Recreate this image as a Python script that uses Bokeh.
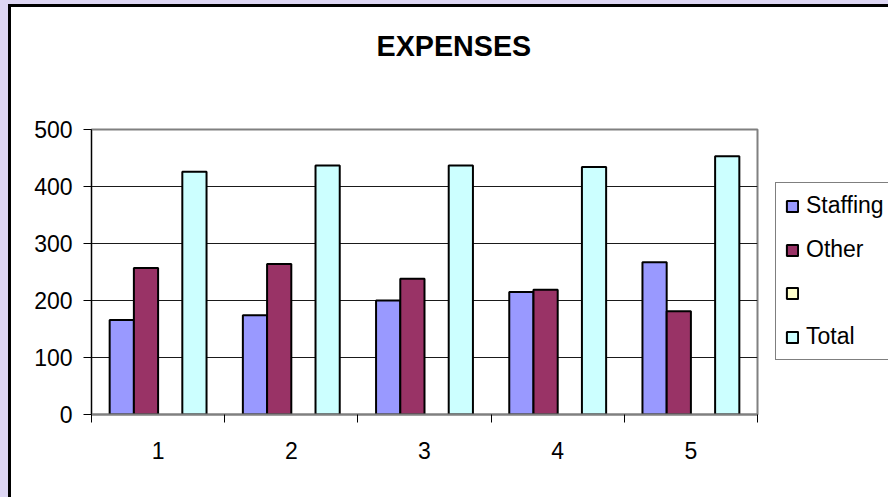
from bokeh.plotting import figure
from bokeh.models import (ColumnDataSource, Range1d, FixedTicker, Legend, LegendItem, Title)
from bokeh.layouts import row
from bokeh.transform import dodge
from bokeh.embed import file_html
from bokeh.resources import INLINE

categories = ["1", "2", "3", "4", "5"]
staffing = [166, 174, 200, 215, 267]
other = [257, 264, 238, 219, 181]
blank = [float("nan")] * 5
total = [426, 437, 437, 434, 453]
series_names = ["Staffing", "Other", " ", "Total"]
series_colors = ["#9999FF", "#993366", "#FFFFCC", "#CCFFFF"]
y_ticks = [0, 100, 200, 300, 400, 500]
title_text = "EXPENSES"

FONT = "Liberation Sans"

xs = [i + 0.5 for i in range(len(categories))]
src = ColumnDataSource(dict(x=xs, s0=staffing, s1=other, s2=blank, s3=total))

p = figure(width=750, height=490, output_backend="svg", toolbar_location=None, title=None,
           x_range=Range1d(0, len(categories)), y_range=Range1d(0, 500),
           min_border_left=80, min_border_right=4, min_border_top=122, min_border_bottom=83)
p.background_fill_color = "white"
p.border_fill_color = "white"
p.outline_line_color = "#808080"
p.outline_line_width = 2

w = 1 / 5.5
offsets = [-1.5 * w, -0.5 * w, 0.5 * w, 1.5 * w]
for k in range(4):
    p.vbar(x=dodge("x", offsets[k], range=p.x_range), top="s%d" % k, bottom=0, width=w,
           source=src, fill_color=series_colors[k], line_color="black", line_width=2)

# grid
p.xgrid.visible = False
p.ygrid.ticker = FixedTicker(ticks=y_ticks[1:-1])
p.ygrid.grid_line_color = "#1a1a1a"
p.ygrid.grid_line_width = 1

# y axis
p.yaxis.ticker = FixedTicker(ticks=y_ticks)
p.yaxis.axis_line_color = "black"
p.yaxis.axis_line_width = 1
p.yaxis.major_tick_line_color = "black"
p.yaxis.major_tick_out = 8
p.yaxis.major_tick_in = 0
p.yaxis.minor_tick_line_color = None
p.yaxis.major_label_text_font = FONT
p.yaxis.major_label_text_font_size = "23px"
p.yaxis.major_label_text_color = "black"
p.yaxis.major_label_standoff = 11

# x axis
p.xaxis.ticker = FixedTicker(ticks=xs, minor_ticks=list(range(len(categories) + 1)))
p.xaxis.major_label_overrides = {x: c for x, c in zip(xs, categories)}
p.xaxis.axis_line_color = "#808080"
p.xaxis.axis_line_width = 2
p.xaxis.major_tick_line_color = None
p.xaxis.major_tick_out = 0
p.xaxis.major_tick_in = 0
p.xaxis.minor_tick_line_color = "black"
p.xaxis.minor_tick_out = 8
p.xaxis.minor_tick_in = 0
p.xaxis.major_label_text_font = FONT
p.xaxis.major_label_text_font_size = "23px"
p.xaxis.major_label_text_color = "black"
p.xaxis.major_label_standoff = 19

# title: a blank spacer title next to the frame, then the real title above it
p.add_layout(Title(text=" ", text_font_size="10px", standoff=55), "above")
p.add_layout(Title(text=title_text, align="left", offset=285, standoff=0,
                   text_font=FONT, text_font_style="bold", text_font_size="28.7px",
                   text_color="black"), "above")

# legend in a narrow companion figure (cut off at the right edge like the reference)
pl = figure(width=127, height=490, output_backend="svg", toolbar_location=None,
            x_range=Range1d(0, 1), y_range=Range1d(0, 1), min_border=0)
pl.axis.visible = False
pl.grid.visible = False
pl.outline_line_color = None
pl.background_fill_color = "white"
pl.border_fill_color = "white"
empty = ColumnDataSource(dict(x=[float("nan")], t=[float("nan")]))
leg_renderers = []
for k in range(4):
    r = pl.vbar(x="x", top="t", width=0.1, source=empty,
                fill_color=series_colors[k], line_color="black", line_width=2)
    leg_renderers.append(r)

legend = Legend(items=[LegendItem(label=series_names[k], renderers=[leg_renderers[k]]) for k in range(4)],
                location=(14, 54))
legend.border_line_color = "black"
legend.border_line_width = 1
legend.background_fill_color = "white"
legend.background_fill_alpha = 1
legend.padding = 9
legend.margin = 0
legend.spacing = 17
legend.label_height = 26
legend.glyph_height = 14
legend.glyph_width = 14
legend.label_standoff = 7
legend.label_text_font = FONT
legend.label_text_font_size = "23px"
legend.label_text_color = "black"
pl.add_layout(legend)

layout = row(p, pl, styles={"margin-left": "8px", "margin-top": "4px",
                            "border-left": "3px solid black", "border-top": "3px solid black",
                            "box-shadow": "0 0 0 12px #DDD6F3"})

open("out.html", "w").write(file_html(layout, INLINE))
